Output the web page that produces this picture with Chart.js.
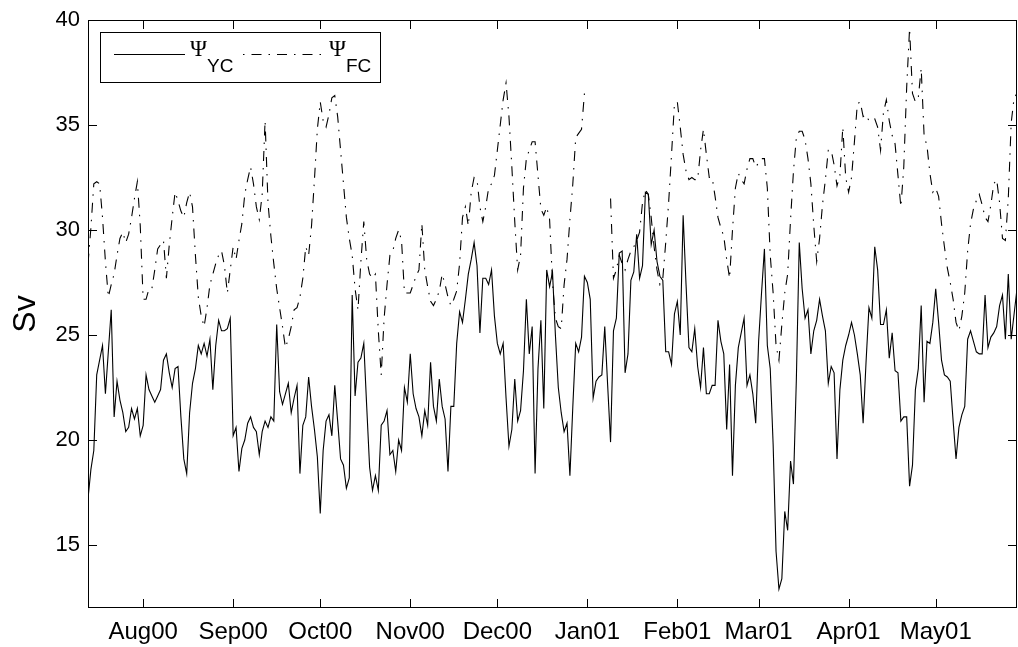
<!DOCTYPE html>
<html lang="en">
<head>
  <meta charset="UTF-8" />
  <title>Psi YC / Psi FC transport</title>
  <script src="https://cdn.jsdelivr.net/npm/chart.js"></script>
  <style>
    body { margin: 0; background: #fff; }
    canvas { display: block; }
  </style>
</head>
<body>
  <canvas id="psiChart" width="1018" height="647"></canvas>

  <script>
    // daily values, day 0 = 13 Jul 2000
    const tickDays = [19, 50, 80, 111, 141, 172, 203, 231, 262, 292];
    const monthLabels = ['Aug00', 'Sep00', 'Oct00', 'Nov00', 'Dec00', 'Jan01', 'Feb01', 'Mar01', 'Apr01', 'May01'];
    const yTicks = [15, 20, 25, 30, 35, 40];

    const psiYC = [
      17.2, 18.6, 19.5, 23.1, 23.8, 24.5, 22.2, 24.2, 26.2, 21.1,
      22.8, 21.9, 21.3, 20.4, 20.6, 21.5, 21.0, 21.5, 20.2, 20.7,
      23.1, 22.4, 22.1, 21.8, 22.1, 22.4, 23.8, 24.1, 23.2, 22.5,
      23.4, 23.5, 21.1, 19.1, 18.4, 21.3, 22.7, 23.4, 24.5, 24.1,
      24.6, 24.0, 24.8, 22.4, 24.5, 25.7, 25.2, 25.2, 25.3, 25.8,
      20.2, 20.6, 18.5, 19.6, 20.0, 20.8, 21.1, 20.6, 20.4, 19.3,
      20.4, 20.9, 20.6, 21.1, 20.9, 25.5, 22.3, 21.7, 22.2, 22.7,
      21.3, 22.0, 22.6, 18.4, 20.7, 21.1, 23.0, 21.6, 20.5, 19.2,
      16.5, 19.5, 20.9, 21.2, 20.2, 22.6, 20.9, 19.1, 18.8, 17.7,
      18.2, 26.9, 22.1, 23.7, 23.9, 24.6, 21.6, 18.7, 17.6, 18.3,
      17.6, 20.7, 20.9, 21.4, 19.3, 19.5, 18.5, 20.0, 19.5, 22.5,
      21.8, 24.1, 22.2, 21.5, 21.1, 20.2, 21.4, 20.7, 23.7, 21.6,
      20.9, 22.9, 21.6, 21.0, 18.5, 21.6, 21.6, 24.6, 26.1, 25.6,
      26.7, 27.9, 28.6, 29.4, 28.3, 25.1, 27.7, 27.7, 27.4, 28.1,
      25.9, 24.6, 24.1, 24.6, 22.0, 19.7, 20.5, 22.9, 20.9, 21.4,
      23.3, 26.7, 24.1, 25.4, 18.4, 23.4, 25.7, 21.5, 28.1, 27.3,
      28.0, 25.0, 22.5, 21.3, 20.4, 20.8, 18.3, 21.6, 24.6, 24.2,
      24.9, 27.8, 27.5, 26.7, 22.0, 22.8, 23.0, 23.1, 25.4, 22.6,
      19.9, 25.2, 25.8, 28.9, 29.0, 23.2, 24.1, 27.6, 28.0, 29.8,
      27.7, 28.3, 31.8, 31.7, 29.3, 30.0, 28.5, 27.8, 27.6, 24.2,
      24.2, 23.6, 26.0, 26.6, 25.0, 30.7, 27.4, 24.4, 24.2, 25.3,
      23.5, 22.5, 24.4, 22.2, 22.2, 22.6, 22.6, 25.7, 24.7, 24.1,
      20.5, 23.6, 18.3, 22.6, 24.4, 25.1, 25.8, 22.6, 23.1, 22.2,
      20.8, 24.7, 27.0, 29.1, 24.5, 23.4, 19.8, 14.7, 12.9, 13.4,
      16.6, 15.7, 19.0, 17.9, 22.9, 29.4, 27.2, 25.8, 26.2, 24.1,
      25.2, 25.7, 26.7, 25.9, 25.2, 22.7, 23.5, 23.2, 19.1, 22.4,
      23.8, 24.5, 25.0, 25.6, 25.0, 24.1, 23.1, 20.8, 23.7, 26.3,
      25.8, 29.2, 28.1, 25.5, 25.5, 26.2, 23.9, 25.1, 23.3, 23.2,
      20.9, 21.1, 21.1, 17.8, 18.8, 22.4, 23.4, 26.4, 21.8, 24.7,
      24.6, 25.6, 27.2, 25.6, 23.8, 23.1, 23.0, 22.8, 20.9, 19.1,
      20.6, 21.2, 21.6, 24.8, 25.2, 24.7, 24.2, 24.1, 24.1, 26.9,
      24.4, 24.9, 25.1, 25.4, 26.4, 26.9, 24.8, 27.9, 24.8, 26.0,
      27.2
    ];

    const psiFC = [
      28.4, 30.1, 32.2, 32.3, 32.2, 30.6, 28.5, 26.8, 27.4, 27.9,
      28.8, 29.6, 29.9, 29.4, 29.8, 30.6, 31.5, 32.3, 30.2, 26.7,
      26.7, 27.2, 27.2, 28.1, 29.1, 29.3, 29.5, 27.7, 29.3, 30.6,
      31.8, 31.4, 30.9, 30.6, 31.3, 31.8, 31.1, 28.8, 26.8, 25.9,
      25.4, 26.3, 27.4, 27.9, 28.4, 28.8, 29.0, 28.3, 27.0, 28.1,
      29.2, 28.6, 29.5, 30.3, 31.7, 32.4, 33.0, 32.2, 31.1, 30.5,
      31.7, 35.2, 31.3, 29.7, 28.4, 27.2, 26.3, 25.4, 24.4, 24.8,
      25.4, 26.2, 26.3, 26.8, 27.7, 29.2, 28.8, 30.2, 32.4, 34.8,
      36.1, 35.2, 34.9, 35.5, 36.3, 36.4, 35.4, 33.8, 32.2, 30.6,
      29.6, 28.8, 27.2, 26.2, 28.5, 30.4, 28.6, 27.9, 27.7, 27.9,
      25.2, 23.1, 25.8, 27.4, 28.8, 29.0, 29.6, 30.0, 29.5, 27.0,
      27.0, 27.0, 27.4, 27.8, 28.1, 30.3, 28.1, 27.3, 26.6, 26.4,
      26.7, 27.1, 27.9, 27.4, 26.8, 26.4, 26.7, 27.1, 28.4, 30.6,
      31.1, 30.2, 31.8, 32.5, 32.4, 31.1, 30.4, 31.1, 32.0, 32.2,
      32.6, 33.8, 35.0, 36.2, 37.0, 35.4, 33.0, 30.4, 28.1, 28.8,
      32.0, 33.4, 33.8, 34.2, 34.2, 32.6, 31.0, 30.7, 31.1, 30.5,
      27.5, 25.8, 25.4, 25.3, 27.4, 28.6, 30.5, 32.2, 34.4, 34.6,
      34.8, 36.5, null, null, null, null, null, null, null, null,
      31.5, 27.7, 28.1, 28.8, 28.4, 28.1, 28.6, 29.0, 29.2, 29.5,
      29.9, 31.3, 31.9, 31.7, 30.6, 29.2, 28.1, 27.4, 27.7, 29.4,
      31.3, 33.6, 36.0, 36.1, 34.9, 33.6, 32.8, 32.4, 32.5, 32.4,
      32.4, 33.8, 34.8, 33.6, 32.5, 32.5, 31.6, 30.6, 30.1, 29.7,
      28.6, 27.7, 30.0, 32.0, 32.7, 32.4, 32.2, 32.9, 33.4, 33.4,
      33.0, 33.2, 33.4, 33.4, 32.0, 28.8, 27.0, 24.5, 23.8, 25.5,
      27.0, 27.9, 30.5, 32.8, 34.4, 34.7, 34.7, 34.3, 33.4, 32.2,
      30.2, 28.5, 29.6, 31.2, 32.4, 33.8, 33.8, 33.1, 32.1, 32.6,
      34.9, 32.5, 31.8, 32.5, 34.2, 36.0, 36.1, 35.4, 35.5, 35.2,
      35.3, 35.3, 34.9, 33.8, 35.6, 36.2, 35.2, 34.5, 34.1, 32.6,
      31.1, 33.0, 36.8, 39.6, 36.5, 36.1, 36.3, 37.7, 34.5, 34.0,
      32.7, 31.8, 32.0, 31.6, 30.3, 29.2, 28.2, 27.5, 26.7, 25.6,
      25.2, 25.9, 27.0, 29.0, 30.3, 31.0, 31.4, 31.7, 31.2, 30.6,
      30.4, 31.2, 32.2, 32.4, 31.3, 29.6, 29.5, 31.5, 35.1, 36.3,
      36.5
    ];

    const FONT = "'Liberation Sans', Arial, Helvetica, sans-serif";
    const DASHDOT = [10, 7, 1.5, 7];

    // matlab style box, inward ticks and legend
    const matlabFrame = {
      id: 'matlabFrame',
      afterDatasetsDraw(chart) {
        const { ctx, chartArea: a, scales: { x, y } } = chart;
        ctx.save();
        ctx.strokeStyle = '#000';
        ctx.lineWidth = 1;
        ctx.setLineDash([]);
        ctx.strokeRect(a.left + 0.5, a.top + 0.5, a.right - a.left - 1, a.bottom - a.top - 1);

        ctx.beginPath();
        yTicks.forEach(v => {
          const py = Math.round(y.getPixelForValue(v)) + 0.5;
          ctx.moveTo(a.left, py); ctx.lineTo(a.left + 9, py);
          ctx.moveTo(a.right - 9, py); ctx.lineTo(a.right, py);
        });
        tickDays.forEach(d => {
          const px = Math.round(x.getPixelForValue(d)) + 0.5;
          ctx.moveTo(px, a.bottom); ctx.lineTo(px, a.bottom - 9);
          ctx.moveTo(px, a.top); ctx.lineTo(px, a.top + 9);
        });
        ctx.stroke();

        // legend
        const lx = 100, ly = 32, lw = 280, lh = 50;
        ctx.fillStyle = '#fff';
        ctx.fillRect(lx, ly, lw, lh);
        ctx.strokeRect(lx + 0.5, ly + 0.5, lw, lh);

        const midY = 54.5;
        ctx.beginPath();
        ctx.moveTo(114, midY); ctx.lineTo(185, midY);
        ctx.stroke();
        ctx.setLineDash(DASHDOT);
        ctx.lineDashOffset = DASHDOT[0] + DASHDOT[1];
        ctx.beginPath();
        ctx.moveTo(243, midY); ctx.lineTo(324, midY);
        ctx.stroke();
        ctx.setLineDash([]);

        ctx.fillStyle = '#000';
        ctx.textBaseline = 'alphabetic';
        ctx.textAlign = 'left';
        [['YC', 190], ['FC', 329]].forEach(([sub, tx]) => {
          ctx.font = "23px 'Liberation Serif', 'Times New Roman', serif";
          ctx.fillText('\u03A8', tx, 56);
          const w = ctx.measureText('\u03A8').width;
          ctx.font = '19px ' + FONT;
          ctx.fillText(sub, tx + w, 72);
        });
        ctx.restore();
      }
    };

    const ctx = document.getElementById('psiChart').getContext('2d');
    const psiChart = new Chart(ctx, {
      type: 'line',
      data: {
        datasets: [
          {
            label: 'YC',
            data: psiYC.map((v, i) => ({ x: i, y: v })),
            borderColor: '#000',
            borderWidth: 1.1,
            pointRadius: 0,
            tension: 0,
            fill: false
          },
          {
            label: 'FC',
            data: psiFC.map((v, i) => ({ x: i, y: v })),
            borderColor: '#000',
            borderWidth: 1.1,
            borderDash: DASHDOT,
            pointRadius: 0,
            tension: 0,
            spanGaps: false,
            fill: false
          }
        ]
      },
      options: {
        responsive: false,
        animation: false,
        layout: { padding: { top: 20, right: 1, left: 0, bottom: 0 } },
        plugins: {
          legend: { display: false },
          tooltip: { enabled: false }
        },
        scales: {
          x: {
            type: 'linear',
            min: 0,
            max: 320,
            grid: { display: false },
            border: { display: false },
            afterBuildTicks: s => { s.ticks = tickDays.map(v => ({ value: v })); },
            afterFit: s => { s.height = 39; },
            ticks: {
              autoSkip: false,
              maxRotation: 0,
              padding: 2,
              color: '#000',
              font: { family: FONT, size: 24 },
              callback: (v, i) => monthLabels[i]
            }
          },
          y: {
            min: 12,
            max: 40,
            grid: { display: false },
            border: { display: false },
            afterBuildTicks: s => { s.ticks = yTicks.map(v => ({ value: v })); },
            afterFit: s => { s.width = 88; },
            ticks: {
              padding: 0,
              color: '#000',
              font: { family: FONT, size: 22 }
            },
            title: {
              display: true,
              text: 'Sv',
              color: '#000',
              font: { family: FONT, size: 32 },
              padding: { top: 7, bottom: 0 }
            }
          }
        }
      },
      plugins: [matlabFrame]
    });
  </script>
</body>
</html>
